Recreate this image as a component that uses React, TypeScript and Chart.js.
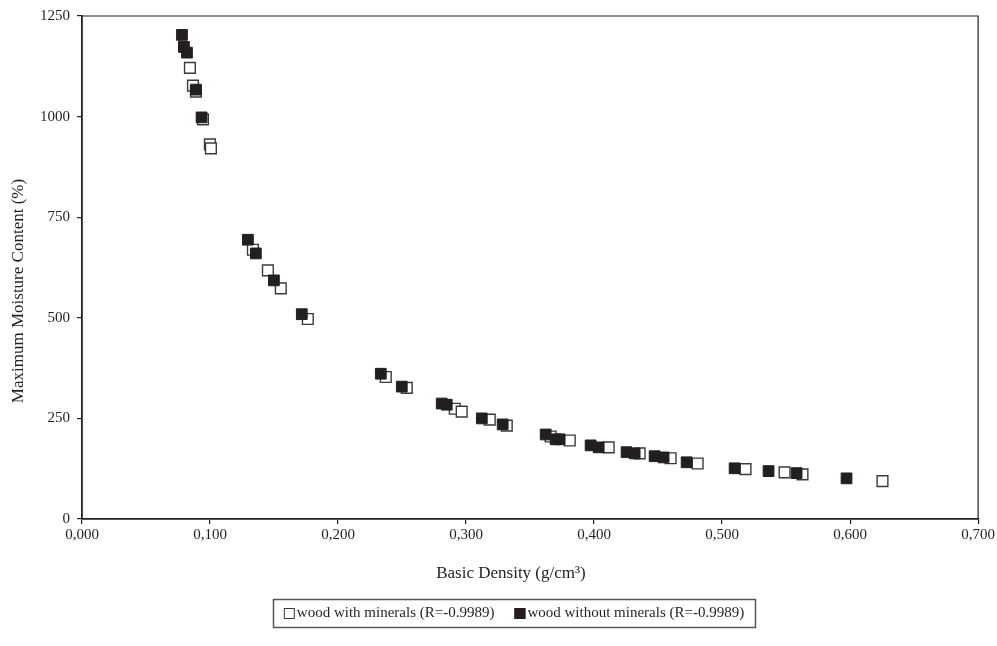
import React, { useEffect, useRef } from "react";
import { Chart, registerables } from "chart.js";

Chart.register(...registerables);

// ---- data ----
const withMineralsX = [0.0843, 0.0867, 0.0890, 0.0945, 0.0999, 0.1007, 0.1335, 0.1452, 0.1553, 0.1764, 0.2373, 0.2537, 0.2912, 0.2966, 0.3185, 0.3318, 0.3661, 0.3810, 0.4114, 0.4356, 0.4598, 0.4809, 0.5183, 0.5488, 0.5628, 0.6253];
const withMineralsY = [1121, 1077, 1062, 993, 931, 921, 669, 618, 573, 497, 353, 326, 274, 267, 247, 232, 205, 195, 178, 163, 151, 138, 124, 116, 111, 94];

const withoutMineralsX = [0.0781, 0.0796, 0.0820, 0.0890, 0.0934, 0.1296, 0.1358, 0.1499, 0.1717, 0.2334, 0.2498, 0.2810, 0.2849, 0.3123, 0.3286, 0.3622, 0.3700, 0.3731, 0.3973, 0.4036, 0.4254, 0.4317, 0.4473, 0.4543, 0.4723, 0.5098, 0.5363, 0.5582, 0.5972];
const withoutMineralsY = [1203, 1173, 1159, 1067, 998, 694, 660, 593, 509, 361, 329, 287, 284, 250, 235, 210, 198, 198, 183, 178, 166, 163, 156, 153, 141, 126, 119, 114, 101];

const seriesLabels = ["wood with minerals (R=-0.9989)", "wood without minerals (R=-0.9989)"];
const xTickLabels = ["0,000", "0,100", "0,200", "0,300", "0,400", "0,500", "0,600", "0,700"];
const yTickLabels = ["0", "250", "500", "750", "1000", "1250"];
const xTitle = "Basic Density (g/cm³)";
const yTitle = "Maximum Moisture Content (%)";

const FONT = '"Liberation Serif", "Times New Roman", serif';
const INK = "#231f20";

const toPoints = (xs: number[], ys: number[]) => xs.map((x, i) => ({ x, y: ys[i] }));

const framePlugin = {
  id: "frame",
  afterDatasetsDraw(chart: any) {
    const { ctx, chartArea } = chart;
    ctx.save();
    ctx.strokeStyle = INK;
    ctx.lineWidth = 1.2;
    ctx.beginPath();
    ctx.moveTo(chartArea.left, chartArea.top);
    ctx.lineTo(chartArea.right, chartArea.top);
    ctx.lineTo(chartArea.right, chartArea.bottom);
    ctx.stroke();
    ctx.restore();
  },
};

const titlesPlugin = {
  id: "axisTitles",
  afterDraw(chart: any) {
    const { ctx } = chart;
    ctx.save();
    ctx.font = `17px ${FONT}`;
    ctx.fillStyle = INK;
    ctx.textAlign = "center";
    ctx.textBaseline = "middle";
    ctx.fillText(xTitle, 511, 574);
    ctx.translate(19, 291);
    ctx.rotate(-Math.PI / 2);
    ctx.fillText(yTitle, 0, 0);
    ctx.restore();
  },
};

const boxLegendPlugin = {
  id: "boxLegend",
  afterDraw(chart: any) {
    const { ctx } = chart;
    ctx.save();
    ctx.font = `15px ${FONT}`;
    const sq = 11;
    const gapSq = 2;
    const gapItems = 20;
    const padX = 11;
    const ds = chart.data.datasets;
    const widths = ds.map((d: any) => sq + gapSq + ctx.measureText(d.label).width);
    const total = widths.reduce((a: number, b: number) => a + b, 0) + gapItems * (ds.length - 1) + padX * 2;
    const cx = 514;
    const top = 599;
    const h = 28;
    const x0 = cx - total / 2;
    ctx.strokeStyle = "#555";
    ctx.lineWidth = 1.5;
    ctx.strokeRect(Math.round(x0) + 0.5, top + 0.5, Math.round(total), h);
    let x = x0 + padX;
    const cy = top + h / 2 + 0.5;
    ds.forEach((d: any, i: number) => {
      ctx.fillStyle = d.backgroundColor;
      ctx.fillRect(x, cy - sq / 2, sq, sq);
      ctx.strokeStyle = d.borderColor;
      ctx.lineWidth = 1;
      ctx.strokeRect(x + 0.5, cy - sq / 2 + 0.5, sq - 1, sq - 1);
      ctx.fillStyle = INK;
      ctx.textAlign = "left";
      ctx.textBaseline = "middle";
      ctx.fillText(d.label, x + sq + gapSq, cy);
      x += widths[i] + gapItems;
    });
    ctx.restore();
  },
};

export default function App() {
  const ref = useRef<HTMLCanvasElement | null>(null);
  useEffect(() => {
    if (!ref.current) return;
    const chart = new Chart(ref.current, {
      type: "scatter",
      data: {
        datasets: [
          {
            label: seriesLabels[0],
            data: toPoints(withMineralsX, withMineralsY),
            pointStyle: "rect",
            pointRadius: 7.6,
            pointHoverRadius: 7.6,
            backgroundColor: "#ffffff",
            borderColor: "#3a3a3a",
            borderWidth: 1.4,
            order: 1,
          },
          {
            label: seriesLabels[1],
            data: toPoints(withoutMineralsX, withoutMineralsY),
            pointStyle: "rect",
            pointRadius: 7.6,
            pointHoverRadius: 7.6,
            backgroundColor: INK,
            borderColor: INK,
            borderWidth: 1,
            order: 0,
          },
        ],
      },
      options: {
        animation: false,
        responsive: false,
        devicePixelRatio: 1,
        layout: { padding: { left: 0, right: 18, top: 12, bottom: 64 } },
        plugins: {
          legend: { display: false },
          tooltip: { enabled: false },
        },
        scales: {
          x: {
            type: "linear",
            min: 0,
            max: 0.7,
            ticks: {
              stepSize: 0.1,
              color: INK,
              font: { family: FONT, size: 15 },
              padding: 2,
              maxRotation: 0,
              callback: (_v: any, i: number) => xTickLabels[i],
            },
            grid: { drawOnChartArea: false, tickLength: 5, color: INK, lineWidth: 1.2 },
            border: { color: INK, width: 1.8 },
            afterFit: (scale: any) => {
              scale.height = 63;
            },
          },
          y: {
            type: "linear",
            min: 0,
            max: 1250,
            ticks: {
              stepSize: 250,
              color: INK,
              font: { family: FONT, size: 15 },
              padding: 7,
              callback: (_v: any, i: number) => yTickLabels[i],
            },
            grid: { drawOnChartArea: false, tickLength: 5, color: INK, lineWidth: 1.2 },
            border: { color: INK, width: 1.8 },
            afterFit: (scale: any) => {
              scale.width = 82;
            },
          },
        },
      },
      plugins: [framePlugin, titlesPlugin, boxLegendPlugin],
    } as any);
    return () => chart.destroy();
  }, []);
  return (
    <div style={{ position: "absolute", left: 0, top: 0, width: 997, height: 646, background: "#fff" }}>
      <canvas ref={ref} width={997} height={646} style={{ width: 997, height: 646, display: "block" }} />
    </div>
  );
}
